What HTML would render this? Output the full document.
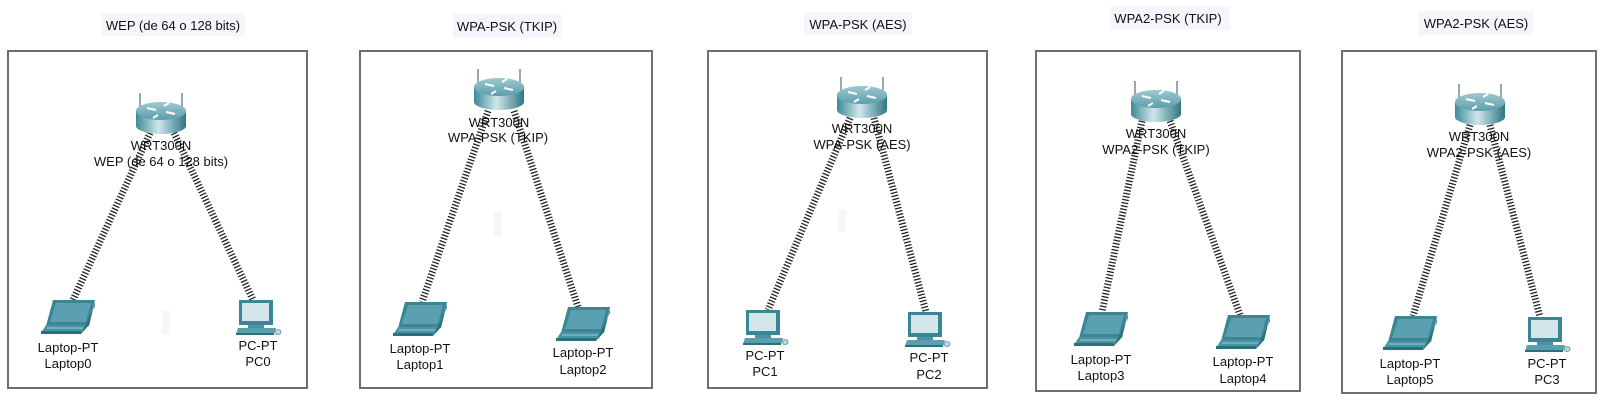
<!DOCTYPE html>
<html><head><meta charset="utf-8"><style>
html,body{margin:0;padding:0;background:#fff;}
svg{display:block;}
text{font-family:"Liberation Sans",Arial,sans-serif;font-size:13px;fill:#111;text-anchor:middle;}
</style></head><body>
<svg width="1609" height="403" viewBox="0 0 1609 403" xmlns="http://www.w3.org/2000/svg">
<defs>
<linearGradient id="rg" x1="0" x2="1" y1="0" y2="0">
<stop offset="0" stop-color="#3e8a98"/><stop offset="0.45" stop-color="#cfe6ea"/><stop offset="1" stop-color="#2f7685"/>
</linearGradient>
<linearGradient id="rt" x1="0" x2="0" y1="0" y2="1">
<stop offset="0" stop-color="#9cc9d1"/><stop offset="1" stop-color="#5d9eab"/>
</linearGradient>
<symbol id="router" viewBox="0 0 50 42" width="50" height="42" overflow="visible">
<line x1="4" y1="0" x2="4" y2="16" stroke="#9aa7ab" stroke-width="2"/>
<line x1="46" y1="0" x2="46" y2="16" stroke="#9aa7ab" stroke-width="2"/>
<path d="M0,18 L0,33 A25,8 0 0 0 50,33 L50,18 Z" fill="url(#rg)"/>
<ellipse cx="25" cy="18" rx="25" ry="9" fill="url(#rt)"/>
<path d="M11,15 L20,17 M30,19 L39,21 M22,22 L17,25 M28,13 L33,10" stroke="#fff" stroke-width="2"/>
</symbol>
<symbol id="laptop" viewBox="0 0 54 34" width="54" height="34" overflow="visible">
<polygon points="12,0 54,0 48,26 5,26" fill="#3b8595"/>
<polygon points="15,3 50,3 45,22 9,22" fill="#5aa0b0"/>
<polygon points="5,25 48,25 40,34 0,33" fill="#4b93a2"/>
<polygon points="0,31 40,31 40,34 0,34" fill="#2c6f7d"/>
<polygon points="48,25 54,2 54,6 40,34" fill="#2c6f7d"/>
<line x1="6" y1="28" x2="42" y2="28" stroke="#9cc5ce" stroke-width="1"/>
</symbol>
<symbol id="pc" viewBox="0 0 46 36" width="46" height="36" overflow="visible">
<rect x="3" y="0" width="34" height="25" fill="#3a8696"/>
<rect x="6" y="3" width="27" height="18" fill="#d3e6ea"/>
<rect x="12" y="25" width="16" height="3" fill="#4b93a2"/>
<polygon points="2,28 40,28 38,34 0,34" fill="#5a9fae"/>
<rect x="0" y="33" width="38" height="2" fill="#2c6f7d"/>
<ellipse cx="42" cy="32" rx="3" ry="2.5" fill="#bcd6dc" stroke="#4b93a2" stroke-width="0.8"/>
</symbol>
</defs>

<g fill="none" stroke="#6e6e6e" stroke-width="2">
<rect x="8" y="51" width="299" height="337"/>
<rect x="360" y="51" width="292" height="337"/>
<rect x="708" y="51" width="279" height="337"/>
<rect x="1036" y="51" width="264" height="340"/>
<rect x="1342" y="51" width="254" height="342"/>
</g>

<g fill="#f4f6fc">
<rect x="102" y="13" width="143" height="23"/>
<rect x="453" y="14" width="109" height="24"/>
<rect x="804" y="12" width="108" height="23"/>
<rect x="1110" y="6" width="120" height="24"/>
<rect x="1418" y="11" width="115" height="24"/>
<rect x="162" y="310" width="8" height="24"/>
<rect x="494" y="212" width="8" height="24"/>
<rect x="838" y="210" width="8" height="22"/>
</g>

<g stroke="#222" stroke-width="7" stroke-dasharray="1.3 1.9" fill="none">
<line x1="150" y1="133" x2="73" y2="300"/>
<line x1="174" y1="133" x2="253" y2="300"/>
<line x1="488" y1="111" x2="422" y2="302"/>
<line x1="514" y1="111" x2="578" y2="307"/>
<line x1="850" y1="118" x2="768" y2="310"/>
<line x1="874" y1="118" x2="926" y2="312"/>
<line x1="1142" y1="121" x2="1102" y2="312"/>
<line x1="1170" y1="121" x2="1240" y2="315"/>
<line x1="1470" y1="125" x2="1413" y2="316"/>
<line x1="1490" y1="125" x2="1540" y2="317"/>
</g>

<use href="#router" x="136" y="93"/>
<use href="#router" x="474" y="69"/>
<use href="#router" x="837" y="77"/>
<use href="#router" x="1131" y="81"/>
<use href="#router" x="1455" y="84"/>

<use href="#laptop" x="41" y="300"/>
<use href="#pc" x="236" y="300"/>
<use href="#laptop" x="393" y="302"/>
<use href="#laptop" x="556" y="307"/>
<use href="#pc" x="743" y="310"/>
<use href="#pc" x="905" y="312"/>
<use href="#laptop" x="1074" y="312"/>
<use href="#laptop" x="1216" y="315"/>
<use href="#laptop" x="1383" y="316"/>
<use href="#pc" x="1525" y="317"/>

<text x="173" y="30">WEP (de 64 o 128 bits)</text>
<text x="507" y="31">WPA-PSK (TKIP)</text>
<text x="858" y="29">WPA-PSK (AES)</text>
<text x="1168" y="23">WPA2-PSK (TKIP)</text>
<text x="1476" y="28">WPA2-PSK (AES)</text>

<text x="161" y="150">WRT300N</text><text x="161" y="166">WEP (de 64 o 128 bits)</text>
<text x="499" y="127">WRT300N</text><text x="498" y="142">WPA-PSK (TKIP)</text>
<text x="862" y="133">WRT300N</text><text x="862" y="149">WPA-PSK (AES)</text>
<text x="1156" y="138">WRT300N</text><text x="1156" y="154">WPA2-PSK (TKIP)</text>
<text x="1479" y="141">WRT300N</text><text x="1479" y="157">WPA2-PSK (AES)</text>

<text x="68" y="352">Laptop-PT</text><text x="68" y="368">Laptop0</text>
<text x="258" y="350">PC-PT</text><text x="258" y="366">PC0</text>
<text x="420" y="353">Laptop-PT</text><text x="420" y="369">Laptop1</text>
<text x="583" y="357">Laptop-PT</text><text x="583" y="374">Laptop2</text>
<text x="765" y="360">PC-PT</text><text x="765" y="376">PC1</text>
<text x="929" y="362">PC-PT</text><text x="929" y="379">PC2</text>
<text x="1101" y="364">Laptop-PT</text><text x="1101" y="380">Laptop3</text>
<text x="1243" y="366">Laptop-PT</text><text x="1243" y="383">Laptop4</text>
<text x="1410" y="368">Laptop-PT</text><text x="1410" y="384">Laptop5</text>
<text x="1547" y="368">PC-PT</text><text x="1547" y="384">PC3</text>
</svg>
</body></html>
